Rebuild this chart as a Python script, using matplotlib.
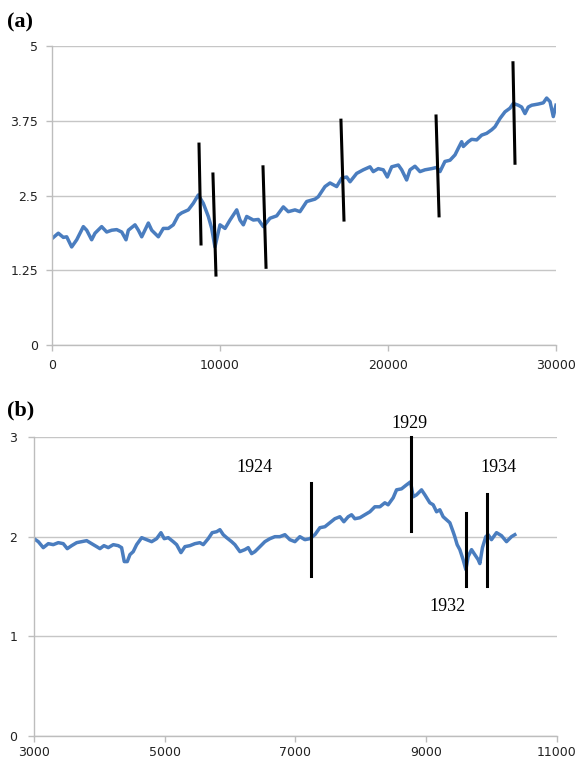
import matplotlib
matplotlib.use("Agg")
import matplotlib.pyplot as plt

# panel (a) series
xa = [0, 375, 675, 875, 1170, 1470, 1865, 2065, 2360, 2560, 2955, 3255, 3555, 3850,
      4150, 4405, 4545, 4940, 5140, 5340, 5735, 5935, 6330, 6625, 6925, 7220, 7520,
      7720, 8115, 8410, 8710, 9005, 9305, 9505, 9700, 10000, 10300, 10595, 10995,
      11190, 11390, 11590, 11985, 12280, 12580, 12975, 13375, 13770, 14065, 14465,
      14760, 15160, 15655, 15850, 16250, 16550, 16945, 17245, 17540, 17740, 18135,
      18530, 18930, 19125, 19420, 19720, 19960, 20220, 20615, 20815, 21110, 21310,
      21605, 21905, 22200, 22600, 22900, 23095, 23390, 23690, 23990, 24185, 24385,
      24485, 24780, 24980, 25280, 25575, 25875, 26175, 26370, 26670, 26965, 27260,
      27460, 27755, 27955, 28155, 28350, 28555, 28950, 29245, 29445, 29645, 29840,
      30000]
ya = [1.78, 1.87, 1.80, 1.81, 1.64, 1.76, 1.98, 1.92, 1.76, 1.87, 1.98, 1.89, 1.92, 1.93,
      1.89, 1.76, 1.92, 2.01, 1.92, 1.81, 2.04, 1.92, 1.81, 1.95, 1.95, 2.01, 2.17,
      2.21, 2.26, 2.37, 2.51, 2.37, 2.15, 1.95, 1.64, 2.01, 1.95, 2.09, 2.26,
      2.09, 2.01, 2.15, 2.09, 2.10, 1.98, 2.12, 2.16, 2.31, 2.23, 2.26,
      2.23, 2.40, 2.44, 2.48, 2.65, 2.71, 2.65, 2.79, 2.81, 2.73, 2.87,
      2.93, 2.98, 2.90, 2.95, 2.93, 2.81, 2.98, 3.01, 2.93, 2.76, 2.93,
      2.99, 2.90, 2.93, 2.95, 2.97, 2.90, 3.07, 3.09, 3.18, 3.29, 3.40,
      3.32, 3.40, 3.44, 3.43, 3.51, 3.54, 3.60, 3.65, 3.79, 3.90, 3.96,
      4.04, 4.01, 3.98, 3.87, 3.98, 4.01, 4.03, 4.05, 4.13, 4.07, 3.82,
      4.01]

# panel (a) break markers: (x top, x bottom, y top, y bottom)
mark_a_x0 = [8750, 9580, 12560, 17200, 22860, 27440]
mark_a_x1 = [8870, 9760, 12740, 17380, 23040, 27560]
mark_a_y0 = [3.36, 2.86, 2.98, 3.76, 3.83, 4.72]
mark_a_y1 = [1.69, 1.17, 1.30, 2.09, 2.16, 3.04]

# panel (b) series
xb = [3000, 3066, 3142, 3219, 3295, 3372, 3448, 3509, 3576, 3653, 3729, 3806, 3882,
      3959, 4009, 4070, 4136, 4213, 4289, 4340, 4381, 4427, 4468, 4518, 4570, 4647,
      4723, 4800, 4876, 4942, 4992, 5054, 5130, 5182, 5248, 5309, 5385, 5462, 5538,
      5589, 5665, 5726, 5794, 5844, 5895, 5947, 6023, 6073, 6150, 6226, 6277, 6329,
      6379, 6456, 6532, 6609, 6685, 6761, 6838, 6914, 6991, 7067, 7144, 7220, 7297,
      7373, 7450, 7526, 7602, 7679, 7740, 7806, 7858, 7908, 7985, 8061, 8138, 8214,
      8291, 8367, 8417, 8494, 8546, 8622, 8699, 8760, 8800, 8852, 8928, 8979, 9055,
      9106, 9158, 9208, 9259, 9310, 9361, 9411, 9437, 9473, 9514, 9564, 9606, 9641,
      9693, 9743, 9794, 9820, 9860, 9911, 9947, 9998, 10075, 10151, 10228, 10304,
      10355]
yb = [1.98, 1.95, 1.89, 1.93, 1.92, 1.94, 1.93, 1.88, 1.91, 1.94, 1.95, 1.96, 1.93,
      1.90, 1.88, 1.91, 1.89, 1.92, 1.91, 1.89, 1.75, 1.75, 1.82, 1.85, 1.92, 1.99,
      1.97, 1.95, 1.98, 2.04, 1.98, 1.99, 1.95, 1.92, 1.84, 1.90, 1.91, 1.93, 1.94,
      1.92, 1.98, 2.04, 2.05, 2.07, 2.02, 1.99, 1.95, 1.92, 1.85, 1.87, 1.89, 1.83,
      1.85, 1.90, 1.95, 1.98, 2.00, 2.00, 2.02, 1.97, 1.95, 2.00, 1.97, 1.98, 2.02,
      2.09, 2.10, 2.14, 2.18, 2.20, 2.15, 2.20, 2.22, 2.18, 2.19, 2.22, 2.25, 2.30,
      2.30, 2.34, 2.32, 2.39, 2.47, 2.48, 2.52, 2.55, 2.40, 2.42, 2.47, 2.42, 2.34,
      2.32, 2.25, 2.27, 2.20, 2.17, 2.14, 2.05, 2.00, 1.92, 1.87, 1.77, 1.67, 1.80,
      1.87, 1.82, 1.77, 1.73, 1.89, 2.00, 2.02, 1.97, 2.04, 2.01, 1.95, 2.00,
      2.02]

mark_b_x = [7235, 8765, 9606, 9927]
mark_b_y0 = [2.54, 3.00, 2.24, 2.43]
mark_b_y1 = [1.61, 2.06, 1.51, 1.51]

years = ["1924", "1929", "1932", "1934"]
year_x = [6380, 8750, 9330, 10110]
year_y = [2.69, 3.14, 1.30, 2.69]

blue = "#4a7dbf"
grid = "#c6c6c6"

fig = plt.figure(figsize=(5.85, 7.62), dpi=100)
ax1 = fig.add_axes([0.0889, 0.5472, 0.8615, 0.3924])
ax2 = fig.add_axes([0.0581, 0.0341, 0.894, 0.3924])


def style(ax):
    for s in ["top", "right"]:
        ax.spines[s].set_visible(False)
    for s in ["left", "bottom"]:
        ax.spines[s].set_color("#bdbdbd")
        ax.spines[s].set_linewidth(1.0)
    ax.yaxis.grid(True, color=grid, linewidth=1.0)
    ax.set_axisbelow(True)
    ax.tick_params(axis="both", colors="#bdbdbd", labelcolor="#222222",
                   labelsize=9, length=4, width=1.0)


ax1.plot(xa, ya, color=blue, linewidth=2.5, zorder=2)
for i in range(len(mark_a_x0)):
    ax1.plot([mark_a_x0[i], mark_a_x1[i]], [mark_a_y0[i], mark_a_y1[i]],
             color="black", linewidth=2.2, zorder=3)
ax1.set_xlim(0, 30000)
ax1.set_ylim(0, 5)
ax1.set_xticks([0, 10000, 20000, 30000])
ax1.set_yticks([0, 1.25, 2.5, 3.75, 5])
ax1.set_yticklabels(["0", "1.25", "2.5", "3.75", "5"])
style(ax1)
ax1.tick_params(axis="y", pad=6)
ax1.tick_params(axis="x", pad=6)

ax2.plot(xb, yb, color=blue, linewidth=2.5, zorder=2)
for i in range(len(mark_b_x)):
    ax2.plot([mark_b_x[i], mark_b_x[i]], [mark_b_y0[i], mark_b_y1[i]],
             color="black", linewidth=2.2, zorder=3, clip_on=False)
for t, x, y in zip(years, year_x, year_y):
    ax2.text(x, y, t, ha="center", va="center", fontsize=13,
             family="Liberation Serif", clip_on=False)
ax2.set_xlim(3000, 11000)
ax2.set_ylim(0, 3)
ax2.set_xticks([3000, 5000, 7000, 9000, 11000])
ax2.set_yticks([0, 1, 2, 3])
style(ax2)
ax2.tick_params(axis="y", pad=8)

fig.text(0.012, 0.970, "(a)", fontsize=16, fontweight="bold",
         family="Liberation Serif", va="center", ha="left")
fig.text(0.012, 0.461, "(b)", fontsize=16, fontweight="bold",
         family="Liberation Serif", va="center", ha="left")

fig.savefig("out.png", dpi=100)
